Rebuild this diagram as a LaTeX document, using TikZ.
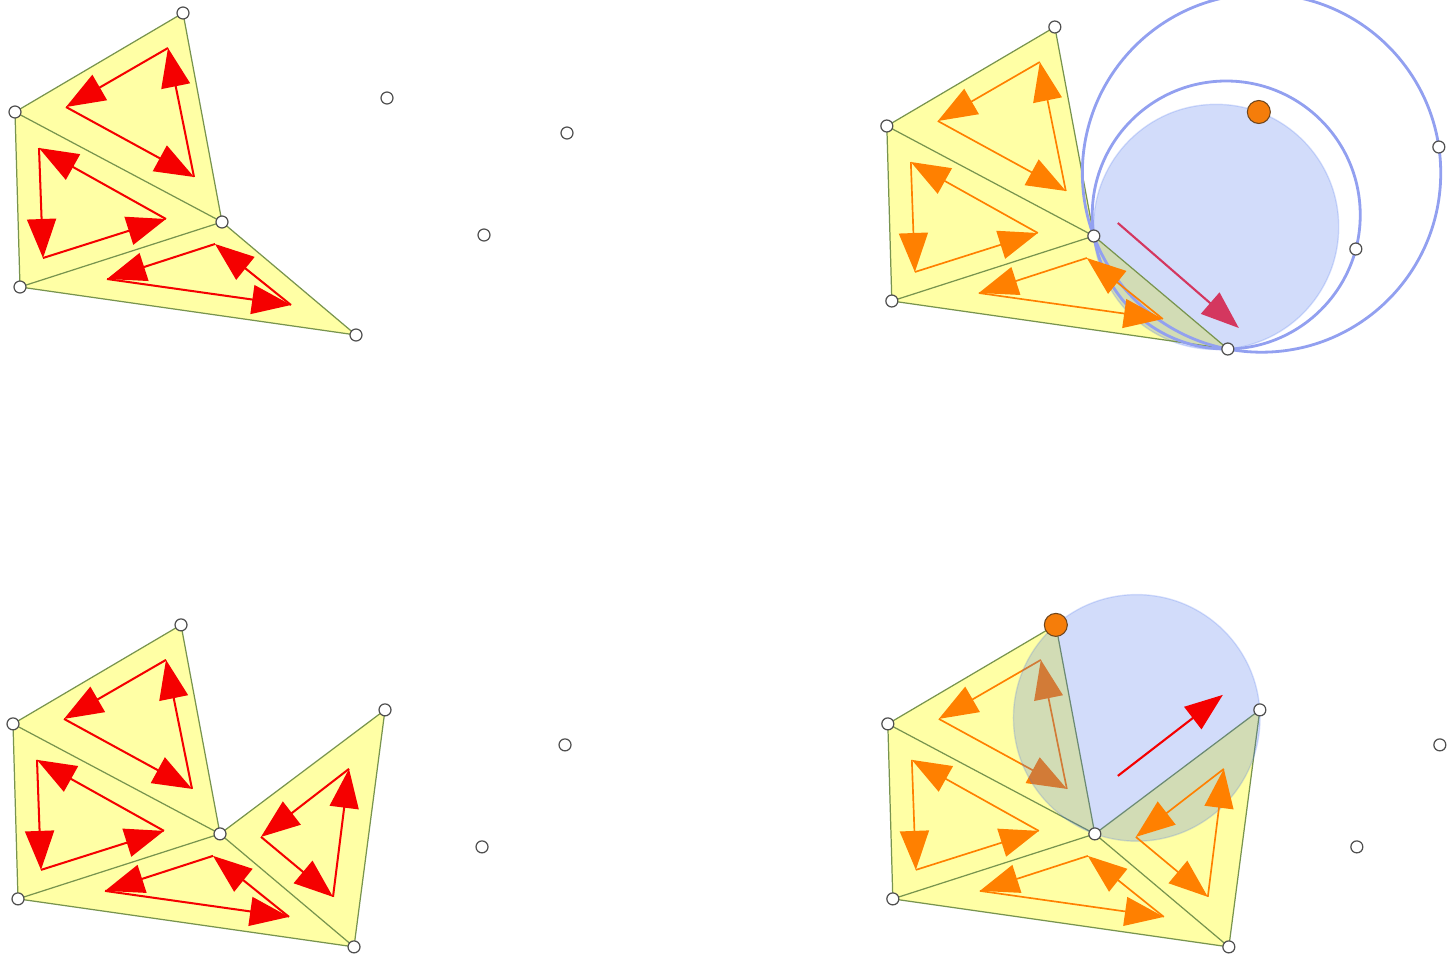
\documentclass[tikz,border=0pt]{standalone}
\usetikzlibrary{arrows.meta}
\definecolor{triyellow}{RGB}{255,255,165}
\definecolor{edgecol}{RGB}{120,148,78}
\definecolor{arrred}{RGB}{245,0,0}
\definecolor{arrorange}{RGB}{255,128,0}
\definecolor{circblue}{RGB}{67,109,234}
\definecolor{ringblue}{RGB}{146,160,240}
\definecolor{crimson}{RGB}{212,55,95}
\definecolor{dotorange}{RGB}{245,125,10}
\definecolor{dotedge}{RGB}{110,70,30}
\definecolor{ptgray}{RGB}{80,80,80}
\tikzset{
  trifill/.style={fill=triyellow},
  triedge/.style={draw=edgecol, line width=0.7pt, line join=round},
  cyc/.style={-{Triangle[length=0.78cm,width=0.58cm]}, line width=1.15pt},
  cycred/.style={cyc, draw=arrred},
  cycorange/.style={cyc, draw=arrorange, line width=0.95pt},
  discfill/.style={fill=circblue, fill opacity=0.24, draw=circblue, draw opacity=0.2, line width=0.8pt},
  ring/.style={draw=ringblue, line width=1.6pt},
  pt/.style={circle, fill=white, draw=ptgray, line width=0.7pt, inner sep=0pt, minimum size=0.24cm},
  bigdot/.style={circle, fill=dotorange, draw=dotedge, line width=0.6pt, inner sep=0pt, minimum size=0.46cm},
  movearr/.style={-{Triangle[length=0.76cm,width=0.56cm]}, line width=1.2pt},
}
\newcommand\definepanel[1]{%
  \coordinate (#1A) at (183,13);
  \coordinate (#1B) at (15,112);
  \coordinate (#1C) at (222,222);
  \coordinate (#1D) at (20,287);
  \coordinate (#1E) at (356,335);
  \coordinate (#1F) at (387,98);
  \coordinate (#1P) at (567,133);
  \coordinate (#1Q) at (484,235);
  \coordinate (#1u1) at (168,48);
  \coordinate (#1u2) at (66,107);
  \coordinate (#1u3) at (194,177);
  \coordinate (#1v1) at (39,148);
  \coordinate (#1v2) at (43,258);
  \coordinate (#1v3) at (166,219);
  \coordinate (#1w1) at (215,244);
  \coordinate (#1w2) at (107,279);
  \coordinate (#1w3) at (291,305);
  \coordinate (#1z1) at (351,157);
  \coordinate (#1z2) at (263,225);
  \coordinate (#1z3) at (335,285);
}
\newcommand\cycle[3]{% prefix, tag, style
  \draw[#3] (#1#21) -- (#1#22);
  \draw[#3] (#1#22) -- (#1#23);
  \draw[#3] (#1#23) -- (#1#21);
}
\newcommand\basefill[1]{%
  \fill[trifill] (#1A) -- (#1B) -- (#1C) -- cycle;
  \fill[trifill] (#1B) -- (#1D) -- (#1C) -- cycle;
  \fill[trifill] (#1C) -- (#1D) -- (#1E) -- cycle;
}
\newcommand\baseedge[1]{%
  \draw[triedge] (#1A) -- (#1B) -- (#1C) -- cycle;
  \draw[triedge] (#1B) -- (#1D) -- (#1C);
  \draw[triedge] (#1D) -- (#1E) -- (#1C);
}
\begin{document}
\begin{tikzpicture}[x=0.02cm,y=-0.02cm]
\useasboundingbox (0,0) rectangle (1449,957);
\clip (0,0) rectangle (1449,957);

% ---------------- panel 1 (top left)
\begin{scope}
  \definepanel{a}
  \basefill{a}
  \baseedge{a}
  \cycle{a}{u}{cycred}
  \cycle{a}{v}{cycred}
  \cycle{a}{w}{cycred}
  \foreach \p in {A,B,C,D,E,F,P,Q} \node[pt] (aM\p) at (a\p) {};
\end{scope}

% ---------------- panel 2 (top right)
\begin{scope}[xshift=17.44cm, yshift=-0.28cm]
  \definepanel{b}
  \coordinate (bO1) at (344.3,212.9);
  \coordinate (bO2) at (354.4,201.0);
  \coordinate (bO3) at (389.7,159.0);
  \basefill{b}
  \path[discfill] (bO1) circle[radius=122.6];
  \baseedge{b}
  \draw[ring] (bO2) circle[radius=134.0];
  \draw[ring] (bO3) circle[radius=179.2];
  \cycle{b}{u}{cycorange}
  \cycle{b}{v}{cycorange}
  \cycle{b}{w}{cycorange}
  \coordinate (bR1) at (246,209);
  \coordinate (bR2) at (367,314);
  \draw[movearr, draw=crimson] (bR1) -- (bR2);
  \foreach \p in {A,B,C,D,E,P,Q} \node[pt] (bM\p) at (b\p) {};
  \node[bigdot] (bMF) at (bF) {};
\end{scope}

% ---------------- panel 3 (bottom left)
\begin{scope}[xshift=-0.04cm, yshift=-12.24cm]
  \definepanel{c}
  \basefill{c}
  \fill[trifill] (cC) -- (cF) -- (cE) -- cycle;
  \baseedge{c}
  \draw[triedge] (cC) -- (cF) -- (cE);
  \cycle{c}{u}{cycred}
  \cycle{c}{v}{cycred}
  \cycle{c}{w}{cycred}
  \cycle{c}{z}{cycred}
  \foreach \p in {A,B,C,D,E,F,P,Q} \node[pt] (cM\p) at (c\p) {};
\end{scope}

% ---------------- panel 4 (bottom right)
\begin{scope}[xshift=17.46cm, yshift=-12.24cm]
  \definepanel{d}
  \coordinate (dO) at (263.9,106.0);
  \basefill{d}
  \fill[trifill] (dC) -- (dF) -- (dE) -- cycle;
  \baseedge{d}
  \draw[triedge] (dC) -- (dF) -- (dE);
  \cycle{d}{u}{cycorange}
  \path[discfill] (dO) circle[radius=123.3];
  \cycle{d}{v}{cycorange}
  \cycle{d}{w}{cycorange}
  \cycle{d}{z}{cycorange}
  \coordinate (dR1) at (245,164);
  \coordinate (dR2) at (350,83);
  \draw[movearr, draw=arrred] (dR1) -- (dR2);
  \foreach \p in {B,C,D,E,F,P,Q} \node[pt] (dM\p) at (d\p) {};
  \node[bigdot] (dMA) at (dA) {};
\end{scope}
\end{tikzpicture}
\end{document}
